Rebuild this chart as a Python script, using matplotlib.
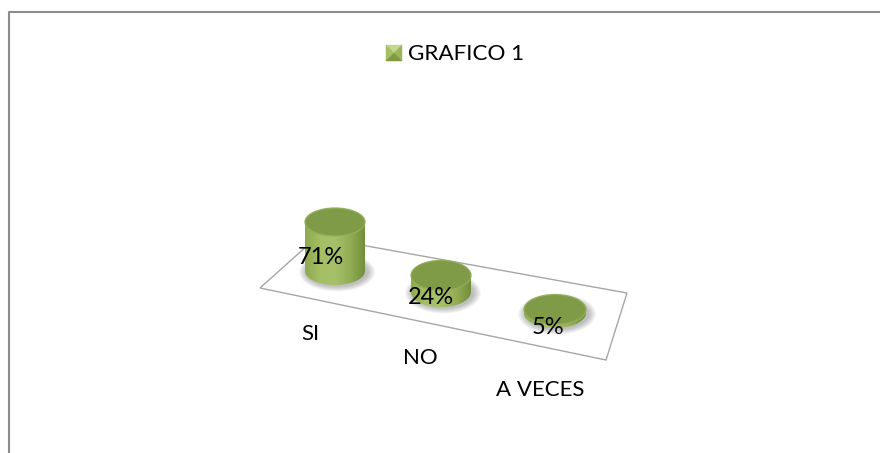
import matplotlib
matplotlib.use('Agg')
import matplotlib.pyplot as plt
import numpy as np
from matplotlib.colors import LinearSegmentedColormap
from matplotlib.patches import Ellipse, PathPatch, Polygon
from matplotlib.path import Path

categorias = ['SI', 'NO', 'A VECES']
valores = [71, 24, 5]
etiquetas = ['71%', '24%', '5%']
serie = 'GRAFICO 1'

# centro de la base de cada cilindro y radios, en pixeles de la imagen
centros_x = [335, 441, 555]
centros_y = [271, 292, 313]
radios_x = [30, 30, 31]
radios_y = [14, 15, 15]
PX_POR_PUNTO = 0.69

plano = [(260, 288), (317, 237), (627, 293), (606, 360)]

plt.rcParams['font.family'] = ['Lato', 'DejaVu Sans']

fig = plt.figure(figsize=(8.8, 4.53), dpi=100)
ax = fig.add_axes([0, 0, 1, 1])
ax.axis('off')

# marco del grafico
ax.plot([8.5, 8.5, 880], [453, 11.5, 11.5], color='#8c8c8c', lw=1.5, solid_capstyle='butt')

ax.add_patch(Polygon(plano, closed=True, fc='white', ec='#a6a6a6', lw=1.0, zorder=1))

verde = LinearSegmentedColormap.from_list('verde', ['#8fa950', '#a4bf64', '#a6c16a', '#93ae55', '#748f3c'])
grad = np.linspace(0, 1, 64).reshape(1, -1)


def cilindro(cx, cy, rx, ry, alto, z):
    # sombra difusa
    for k in range(8):
        ax.add_patch(Ellipse((cx + 2, cy + 1), 2 * rx + 16 - 2 * k, 2 * ry + 11 - 1.4 * k,
                             fc='#505050', ec='none', alpha=0.05, zorder=z))
    top = cy - alto
    t = np.linspace(0, np.pi, 60)
    xs = cx + rx * np.cos(t)
    ys = cy + ry * np.sin(t)
    verts = [(cx - rx, top), (cx + rx, top)] + list(zip(xs, ys)) + [(cx - rx, top)]
    codes = [Path.MOVETO] + [Path.LINETO] * (len(verts) - 2) + [Path.CLOSEPOLY]
    lado = PathPatch(Path(verts, codes), fc='none', ec='none', zorder=z + 1)
    ax.add_patch(lado)
    im = ax.imshow(grad, cmap=verde, extent=(cx - rx, cx + rx, cy + ry, top - ry),
                   aspect='auto', zorder=z + 1)
    im.set_clip_path(lado)
    ax.add_patch(Ellipse((cx, top), 2 * rx, 2 * ry, fc='#7f9b47', ec='#93af58', lw=0.9, zorder=z + 2))


for i, v in enumerate(valores):
    cilindro(centros_x[i], centros_y[i], radios_x[i], radios_y[i], v * PX_POR_PUNTO, 3 + i)

# etiquetas de datos
for x, y, s in zip([321, 431, 548], [258, 297, 328], etiquetas):
    ax.text(x, y, s, fontsize=17, ha='center', va='center', color='black', zorder=10)

# categorias
for x, y, s in zip([310, 420, 540], [334, 358, 390], categorias):
    ax.text(x, y, s, fontsize=16, ha='center', va='center', color='black', zorder=10)

# leyenda: cuadrado biselado
x0, x1, y0, y1 = 386, 402, 45, 61
xc, yc = (x0 + x1) / 2, (y0 + y1) / 2
caras = [
    ([(x0, y0), (x1, y0), (xc, yc)], '#c3d88c'),
    ([(x0, y0), (x0, y1), (xc, yc)], '#a4bf62'),
    ([(x1, y0), (x1, y1), (xc, yc)], '#9ab658'),
    ([(x0, y1), (x1, y1), (xc, yc)], '#7f9b42'),
]
for puntos, color in caras:
    ax.add_patch(Polygon(puntos, closed=True, fc=color, ec=color, lw=0.3, zorder=6))
ax.text(408, 54, serie, fontsize=16.2, ha='left', va='center', color='black')

ax.set_xlim(0, 880)
ax.set_ylim(453, 0)

fig.savefig('out.png', dpi=100, facecolor='white')
